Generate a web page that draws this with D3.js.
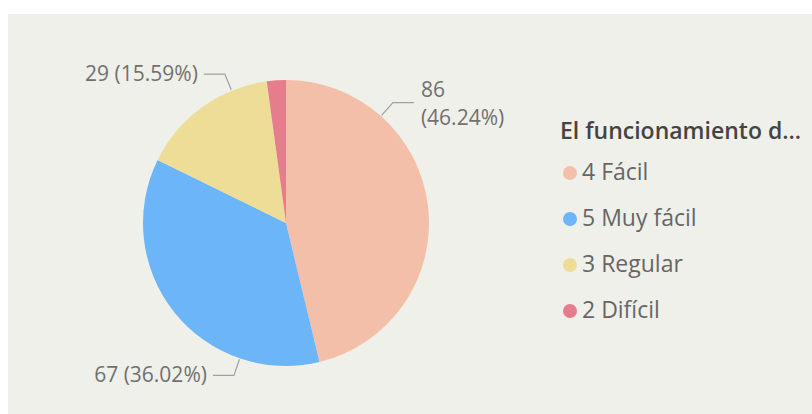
<!DOCTYPE html>
<meta charset="utf-8">
<style>
    body { margin: 0; background: #fff; }
    svg { display: block; }
    .lbl { font-family: "Segoe UI", "Open Sans", sans-serif; font-size: 21px; fill: #707070; }
    .leg { font-family: "Segoe UI", "Open Sans", sans-serif; font-size: 23px; fill: #666; }
    .legtitle { font-family: "Segoe UI", "Open Sans", sans-serif; font-size: 23px; font-weight: 600; fill: #444; }
</style>
<svg></svg>
<script src="https://d3js.org/d3.v7.min.js"></script>
<script>

    var width = 812,
        height = 414;

    // data, in the order Power BI drew it (clockwise from 12 o'clock)
    var categories = ["4 Fácil", "5 Muy fácil", "3 Regular", "2 Difícil"];
    var values = [86, 67, 29, 4];
    var colors = ["#F4BFA8", "#6CB5F9", "#EEDD97", "#E67D8D"];
    var legendTitle = "El funcionamiento d...";

    // where along each slice the leader line leaves (null = no label)
    var anchorAt = [0.25, 0.25, 0.74, null];
    var wrapLabel = [true, false, false, false];

    var svg = d3.select("svg")
        .attr("width", width)
        .attr("height", height);

    // visual panel
    svg.append("rect")
        .attr("x", 8).attr("y", 14)
        .attr("width", width - 8).attr("height", height - 14)
        .attr("fill", "#F0F0EB");

    var cx = 286, cy = 223, radius = 143;
    var g = svg.append("g").attr("transform", "translate(" + cx + "," + cy + ")");

    var total = d3.sum(values);
    var data = categories.map(function (c, i) { return { cat: c, value: values[i], i: i }; });

    var pie = d3.pie().sort(null).value(function (d) { return d.value; });
    var arc = d3.arc().innerRadius(0).outerRadius(radius);
    var color = d3.scaleOrdinal(categories, colors);

    var slices = pie(data);

    g.selectAll("path.slice")
        .data(slices)
        .enter().append("path")
        .attr("class", "slice")
        .attr("d", arc)
        .attr("fill", function (d) { return color(d.data.cat); });

    function pt(a, r) { return [r * Math.sin(a), -r * Math.cos(a)]; }

    var labelled = slices.filter(function (d) { return anchorAt[d.data.i] != null; });

    labelled.forEach(function (d) {
        var a = d.startAngle + anchorAt[d.data.i] * (d.endAngle - d.startAngle);
        var p0 = pt(a, radius + 1);
        var p1 = pt(a, radius + 18);
        var right = p1[0] > 0;
        var p2 = [p1[0] + (right ? 21 : -21), p1[1]];

        g.append("polyline")
            .attr("points", [p0, p1, p2].join(" "))
            .attr("fill", "none")
            .attr("stroke", "#A0A0A0")
            .attr("stroke-width", 1.2);

        var pct = (d.data.value / total * 100).toFixed(2);
        var tx = p2[0] + (right ? 7 : -6);
        var anchor = right ? "start" : "end";
        if (wrapLabel[d.data.i]) {
            g.append("text").attr("class", "lbl")
                .attr("x", tx).attr("y", p2[1] - 11)
                .attr("dominant-baseline", "middle")
                .attr("text-anchor", anchor)
                .text(d.data.value);
            g.append("text").attr("class", "lbl")
                .attr("x", tx).attr("y", p2[1] + 17)
                .attr("dominant-baseline", "middle")
                .attr("text-anchor", anchor)
                .text("(" + pct + "%)");
        } else {
            g.append("text").attr("class", "lbl")
                .attr("x", tx).attr("y", p2[1] + 1)
                .attr("dominant-baseline", "middle")
                .attr("text-anchor", anchor)
                .text(d.data.value + " (" + pct + "%)");
        }
    });

    // legend
    var legend = svg.append("g").attr("transform", "translate(560,0)");
    legend.append("text").attr("class", "legtitle")
        .attr("x", 0).attr("y", 133)
        .attr("dominant-baseline", "middle")
        .text(legendTitle);

    var ly = d3.scalePoint().domain(categories).range([173, 311]);

    var item = legend.selectAll("g.item")
        .data(categories)
        .enter().append("g")
        .attr("class", "item")
        .attr("transform", function (d) { return "translate(0," + ly(d) + ")"; });

    item.append("circle")
        .attr("cx", 10).attr("cy", 0).attr("r", 7)
        .attr("fill", function (d) { return color(d); });

    item.append("text").attr("class", "leg")
        .attr("x", 22).attr("y", 1)
        .attr("dominant-baseline", "middle")
        .text(function (d) { return d; });

</script>
